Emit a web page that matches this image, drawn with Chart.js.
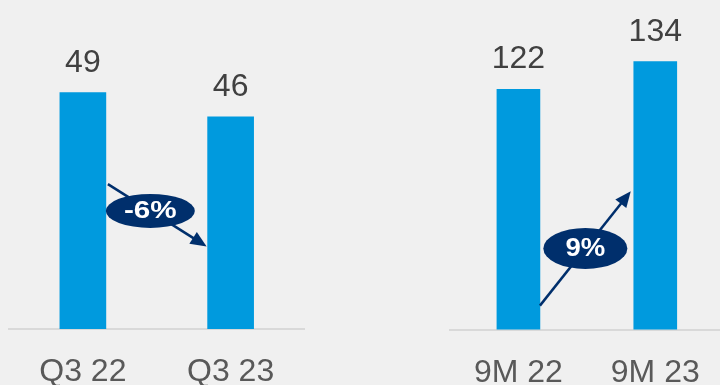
<!DOCTYPE html>
<html>
<head>
<meta charset="utf-8">
<script src="https://cdn.jsdelivr.net/npm/chart.js@4.4.1/dist/chart.umd.min.js"></script>
<style>
  html, body { margin: 0; padding: 0; background: #f0f0f0; }
  #wrap { position: relative; width: 720px; height: 385px; overflow: hidden; background: #f0f0f0; }
  .panel { position: absolute; top: 0; height: 430px; }
</style>
</head>
<body>
<div id="wrap">
  <div class="panel" style="left:0; width:320px;"><canvas id="quarterChart"></canvas></div>
  <div class="panel" style="left:430px; width:300px;"><canvas id="ytdChart"></canvas></div>
</div>
<script>
// quarter vs. quarter
const quarterLabels = ['Q3 22', 'Q3 23'];
const quarterValues = [49, 46];
const quarterChange = '-6%';

// nine months vs. nine months
const ytdLabels = ['9M 22', '9M 23'];
const ytdValues = [122, 134];
const ytdChange = '9%';

const barBlue = '#009ade';
const navy = '#002f6c';
const fontFamily = '"Liberation Sans", Arial, sans-serif';

Chart.defaults.font.family = fontFamily;
Chart.defaults.animation = false;

// value above each bar
const barLabels = {
  id: 'barLabels',
  afterDatasetsDraw(chart) {
    const { ctx } = chart;
    const values = chart.data.datasets[0].data;
    ctx.save();
    ctx.font = '32px ' + fontFamily;
    ctx.fillStyle = '#404040';
    ctx.textAlign = 'center';
    ctx.textBaseline = 'alphabetic';
    chart.getDatasetMeta(0).data.forEach((bar, i) => {
      ctx.fillText(values[i], bar.x, bar.y - 21);
    });
    ctx.restore();
  }
};

// arrow between the bars with the % change in a bubble
const changeArrow = {
  id: 'changeArrow',
  afterDatasetsDraw(chart, args, opts) {
    const { ctx } = chart;
    const y = chart.scales.y;
    const bars = chart.getDatasetMeta(0).data;
    const x0 = bars[0].x + bars[0].width / 2 + opts.gapStart;
    const x1 = bars[1].x - bars[1].width / 2 - opts.gapEnd;
    const y0 = y.getPixelForValue(opts.from);
    const y1 = y.getPixelForValue(opts.to);
    const ang = Math.atan2(y1 - y0, x1 - x0);
    const cos = Math.cos(ang), sin = Math.sin(ang);
    const head = 16, half = 7;

    ctx.save();
    ctx.strokeStyle = navy;
    ctx.fillStyle = navy;
    ctx.lineWidth = 2.5;
    ctx.beginPath();
    ctx.moveTo(x0, y0);
    ctx.lineTo(x1 - head * 0.8 * cos, y1 - head * 0.8 * sin);
    ctx.stroke();

    ctx.beginPath();
    ctx.moveTo(x1, y1);
    ctx.lineTo(x1 - head * cos + half * sin, y1 - head * sin - half * cos);
    ctx.lineTo(x1 - head * cos - half * sin, y1 - head * sin + half * cos);
    ctx.closePath();
    ctx.fill();

    const cx = x0 + (x1 - x0) * opts.at;
    const cy = y0 + (y1 - y0) * opts.at;
    ctx.beginPath();
    ctx.ellipse(cx, cy, opts.rx, opts.ry, 0, 0, Math.PI * 2);
    ctx.fill();

    // the label is set a little wider than the plain bold face
    ctx.translate(cx, cy + 1);
    ctx.scale(opts.stretch, 1);
    ctx.fillStyle = '#ffffff';
    ctx.font = 'bold ' + opts.size + 'px ' + fontFamily;
    ctx.textAlign = 'center';
    ctx.textBaseline = 'middle';
    ctx.fillText(opts.text, 0, 0);
    ctx.restore();
  }
};

function makeChart(id, labels, values, cfg) {
  return new Chart(document.getElementById(id), {
    type: 'bar',
    data: {
      labels: labels,
      datasets: [{
        data: values,
        backgroundColor: barBlue,
        barThickness: cfg.barWidth
      }]
    },
    options: {
      responsive: true,
      maintainAspectRatio: false,
      layout: { padding: cfg.padding },
      plugins: {
        legend: { display: false },
        tooltip: { enabled: false },
        changeArrow: cfg.arrow
      },
      scales: {
        x: {
          grid: { display: false },
          border: { color: '#d9d9d9', width: 2 },
          ticks: { color: '#595959', font: { size: 32 }, padding: 16 }
        },
        y: {
          display: false,
          min: cfg.min,
          max: cfg.max
        }
      }
    },
    plugins: [barLabels, changeArrow]
  });
}

makeChart('quarterChart', quarterLabels, quarterValues, {
  barWidth: 46,
  padding: { left: 9, right: 15.5, top: 10, bottom: 22.6 },
  min: 19.8,
  max: 59.2,
  arrow: { from: 37.7, to: 30, gapStart: 2, gapEnd: 1, at: 0.43, rx: 44.5, ry: 17, size: 23, stretch: 1.29, text: quarterChange }
});

makeChart('ytdChart', ytdLabels, ytdValues, {
  barWidth: 43,
  padding: { left: 20, right: 6.3, top: 10, bottom: 22.1 },
  min: 18.5,
  max: 156.2,
  arrow: { from: 28.8, to: 78.1, gapStart: 0, gapEnd: 3, at: 0.5, rx: 42, ry: 20.5, size: 25.5, stretch: 1.08, text: ytdChange }
});
</script>
</body>
</html>
